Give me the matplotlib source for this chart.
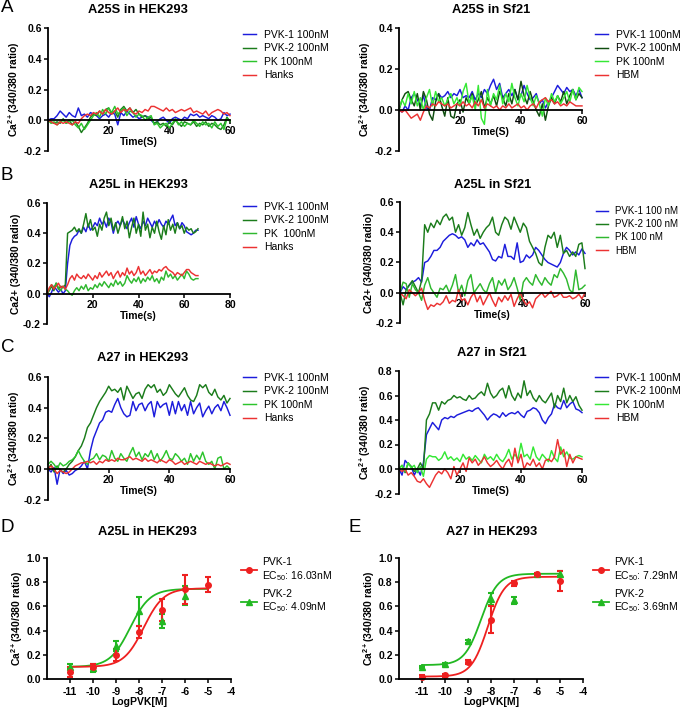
import numpy as np
import matplotlib
matplotlib.use("Agg")
import matplotlib.pyplot as plt

plt.rcParams['font.family'] = ['Liberation Sans', 'DejaVu Sans']
plt.rcParams['mathtext.fontset'] = 'custom'
plt.rcParams['mathtext.rm'] = 'Liberation Sans'
plt.rcParams['mathtext.bf'] = 'Liberation Sans:bold'
plt.rcParams['mathtext.it'] = 'Liberation Sans:italic'

# ---------------- data ----------------
# Panel A left: A25S in HEK293 (1 s steps, 0-60 s)
a1_pvk1 = [0.0, 0.01, 0.01, 0.03, 0.06, 0.04, 0.02, 0.05, 0.03, 0.02, 0.08, 0.03, 0.04, 0.02, 0.05, 0.04,
           0.03, 0.01, 0.03, 0.04, 0.02, 0.05, 0.04, -0.03, 0.05, 0.03, 0.06, 0.04, 0.02, 0.03, 0.01, 0.02,
           0.03, 0.02, 0.0, -0.02, -0.01, 0.01, 0.02, 0.0, -0.02, 0.01, 0.02, 0.01, 0.0, 0.02, 0.01, 0.04,
           0.03, 0.04, 0.02, 0.03, 0.02, 0.01, 0.03, 0.02, 0.0, 0.01, 0.05, 0.03, 0.04]
a1_pvk2 = [0.0, -0.01, -0.02, -0.01, -0.02, 0.01, -0.02, 0.0, -0.03, -0.01, -0.04, -0.08, -0.05, -0.02,
           0.02, 0.04, 0.03, 0.06, 0.04, 0.07, 0.08, 0.04, 0.06, 0.02, 0.07, 0.09, 0.06, 0.08, 0.05, 0.07,
           0.04, 0.02, 0.03, 0.01, 0.02, -0.02, -0.01, -0.03, -0.02, -0.04, -0.01, -0.03, 0.0, -0.02, -0.04,
           -0.01, -0.02, -0.03, -0.01, -0.04, -0.02, -0.03, -0.01, -0.04, -0.02, -0.03, -0.05, -0.06, -0.03,
           0.02, -0.01]
a1_pk = [0.0, -0.02, -0.01, -0.03, -0.01, 0.0, -0.02, -0.01, 0.0, -0.03, -0.05, -0.02, -0.06, -0.03, 0.0,
         0.03, 0.05, 0.02, 0.07, 0.04, 0.08, 0.05, 0.09, 0.04, 0.06, 0.08, 0.03, 0.06, 0.05, 0.02, 0.04,
         0.03, 0.0, 0.02, 0.03, -0.03, -0.02, -0.05, -0.03, -0.02, -0.05, -0.02, 0.01, -0.03, -0.01, -0.04,
         -0.02, -0.03, 0.0, -0.02, -0.04, -0.01, -0.03, -0.02, -0.05, -0.01, -0.04, -0.02, -0.06, 0.01, 0.0]
a1_ctrl = [0.0, -0.01, -0.02, -0.03, -0.01, -0.02, -0.01, -0.02, -0.03, -0.01, -0.02, 0.01, 0.03, 0.04,
           0.03, 0.05, 0.04, 0.06, 0.04, 0.07, 0.05, 0.04, 0.06, 0.08, 0.05, 0.07, 0.06, 0.08, 0.05, 0.04,
           0.06, 0.05, 0.07, 0.06, 0.09, 0.09, 0.08, 0.07, 0.06, 0.08, 0.06, 0.07, 0.05, 0.06, 0.07, 0.06,
           0.07, 0.08, 0.05, 0.06, 0.05, 0.04, 0.06, 0.03, 0.05, 0.06, 0.07, 0.06, 0.04, 0.05, 0.03]

# Panel A right: A25S in Sf21
a2_pvk1 = [0.0, -0.01, 0.02, 0.0, 0.06, 0.08, 0.05, 0.02, 0.07, 0.01, 0.0, 0.06, 0.05, 0.08, 0.06, 0.07,
           0.09, 0.06, 0.08, 0.07, 0.10, 0.06, 0.07, 0.06, 0.09, 0.05, 0.08, 0.06, 0.10, 0.08, 0.12, 0.15,
           0.10, 0.13, 0.06, 0.08, 0.10, 0.07, 0.10, 0.05, 0.07, 0.12, 0.08, 0.05, 0.06, 0.08, 0.03, 0.05,
           0.01, 0.04, 0.06, 0.09, 0.12, 0.10, 0.08, 0.11, 0.09, 0.10, 0.07, 0.10, 0.06]
a2_pvk2 = [0.0, 0.05, 0.08, 0.09, 0.05, 0.02, 0.08, 0.0, 0.09, 0.05, -0.02, -0.05, 0.04, 0.08, 0.02, -0.03,
           0.06, -0.03, -0.04, 0.03, 0.05, -0.01, 0.06, 0.03, 0.08, 0.02, 0.05, 0.09, 0.01, 0.06, 0.03, 0.07,
           0.02, 0.09, 0.06, 0.02, 0.08, 0.03, 0.10, 0.05, 0.14, 0.07, 0.03, 0.09, 0.04, 0.0, -0.03, 0.03,
           -0.05, 0.02, 0.06, 0.03, 0.07, 0.04, 0.09, 0.03, 0.07, 0.10, 0.05, 0.08, 0.06]
a2_pk = [0.0, 0.05, 0.02, 0.08, 0.03, 0.09, 0.02, 0.06, 0.0, 0.06, 0.10, 0.02, 0.09, 0.04, 0.06, 0.02,
         0.05, 0.08, 0.03, 0.06, 0.02, 0.09, 0.13, 0.03, 0.07, 0.0, 0.12, -0.04, -0.07, 0.10, 0.02, 0.08,
         0.05, 0.12, 0.03, 0.08, 0.04, 0.13, 0.06, 0.02, 0.08, 0.04, 0.12, 0.06, 0.02, 0.07, 0.03, -0.03,
         0.06, 0.02, 0.08, 0.04, 0.07, 0.03, 0.06, 0.09, 0.04, 0.10, 0.05, 0.11, 0.09]
a2_ctrl = [0.0, -0.01, 0.0, -0.02, -0.04, -0.03, -0.02, -0.05, -0.01, 0.02, 0.01, 0.03, 0.02, 0.04, 0.03,
           0.02, 0.03, 0.01, 0.02, 0.03, 0.02, 0.04, 0.02, 0.03, 0.01, 0.04, 0.02, 0.05, 0.01, 0.03, 0.02,
           0.01, 0.02, 0.0, 0.02, 0.01, 0.03, 0.01, 0.02, 0.03, 0.01, 0.02, 0.0, 0.02, 0.03, 0.01, 0.04,
           0.05, 0.06, 0.04, 0.05, 0.03, 0.04, 0.02, 0.03, 0.02, 0.04, 0.03, 0.02, 0.02, 0.02]

# Panel B left: A25L in HEK293 (0-66 s)
b1_pvk1 = [0.0, -0.02, 0.01, 0.05, 0.03, 0.01, 0.03, 0.0, 0.02, 0.2, 0.32, 0.36, 0.38, 0.39, 0.42, 0.40,
           0.44, 0.41, 0.46, 0.42, 0.44, 0.47, 0.45, 0.50, 0.46, 0.48, 0.44, 0.50, 0.47, 0.40, 0.46, 0.48,
           0.45, 0.49, 0.46, 0.43, 0.47, 0.50, 0.44, 0.51, 0.46, 0.43, 0.48, 0.45, 0.50, 0.47, 0.44, 0.48,
           0.45, 0.49, 0.46, 0.44, 0.48, 0.46, 0.49, 0.52, 0.45, 0.47, 0.43, 0.47, 0.45, 0.41, 0.40, 0.39,
           0.40, 0.42, 0.42]
b1_pvk2 = [0.0, 0.02, 0.05, 0.02, 0.07, 0.03, 0.05, 0.04, 0.06, 0.40, 0.41, 0.42, 0.44, 0.41, 0.43, 0.40,
           0.46, 0.53, 0.44, 0.49, 0.42, 0.44, 0.38, 0.46, 0.42, 0.50, 0.54, 0.45, 0.50, 0.42, 0.47, 0.40,
           0.45, 0.51, 0.43, 0.48, 0.37, 0.44, 0.50, 0.40, 0.46, 0.38, 0.54, 0.42, 0.46, 0.37, 0.44, 0.40,
           0.48, 0.41, 0.36, 0.45, 0.39, 0.49, 0.42, 0.46, 0.40, 0.47, 0.43, 0.45, 0.40, 0.44, 0.42, 0.43,
           0.40, 0.41, 0.43]
b1_pk = [0.0, 0.03, 0.06, 0.04, 0.07, 0.04, 0.02, 0.05, 0.03, 0.02, 0.0, -0.01, 0.02, 0.04, 0.02, 0.05,
         0.03, 0.06, 0.02, 0.04, 0.03, 0.06, 0.04, 0.07, 0.05, 0.08, 0.06, 0.04, 0.07, 0.05, 0.09, 0.06,
         0.08, 0.05, 0.07, 0.12, 0.09, 0.07, 0.10, 0.08, 0.11, 0.07, 0.10, 0.08, 0.11, 0.09, 0.12, 0.08,
         0.10, 0.07, 0.11, 0.09, 0.15, 0.11, 0.13, 0.10, 0.12, 0.09, 0.11, 0.13, 0.10, 0.15, 0.13, 0.10,
         0.09, 0.10, 0.10]
b1_ctrl = [0.0, 0.04, 0.06, 0.03, 0.05, 0.07, 0.04, 0.05, 0.03, 0.06, 0.10, 0.12, 0.09, 0.13, 0.11, 0.10,
           0.12, 0.10, 0.13, 0.11, 0.09, 0.12, 0.10, 0.14, 0.11, 0.13, 0.15, 0.12, 0.14, 0.10, 0.13, 0.15,
           0.11, 0.14, 0.12, 0.17, 0.13, 0.15, 0.12, 0.14, 0.18, 0.13, 0.15, 0.12, 0.14, 0.16, 0.13, 0.15,
           0.14, 0.16, 0.15, 0.17, 0.18, 0.16, 0.15, 0.14, 0.12, 0.14, 0.13, 0.12, 0.14, 0.16, 0.16, 0.14,
           0.13, 0.12, 0.12]

# Panel B right: A25L in Sf21
b2_pvk1 = [0.0, 0.04, 0.02, 0.05, 0.07, 0.08, 0.10, 0.07, 0.2, 0.21, 0.24, 0.28, 0.28, 0.30, 0.34, 0.36,
           0.38, 0.39, 0.38, 0.36, 0.37, 0.35, 0.30, 0.33, 0.31, 0.35, 0.32, 0.33, 0.30, 0.27, 0.22, 0.21,
           0.24, 0.23, 0.32, 0.24, 0.24, 0.22, 0.33, 0.20, 0.21, 0.25, 0.23, 0.25, 0.30, 0.28, 0.25, 0.22,
           0.20, 0.19, 0.18, 0.17, 0.20, 0.26, 0.30, 0.28, 0.25, 0.27, 0.25, 0.29, 0.26]
b2_pvk2 = [0.0, -0.08, 0.02, 0.05, 0.08, 0.04, 0.0, 0.08, 0.45, 0.40, 0.46, 0.43, 0.48, 0.45, 0.50, 0.52,
           0.48, 0.50, 0.40, 0.45, 0.38, 0.43, 0.53, 0.45, 0.38, 0.42, 0.36, 0.40, 0.43, 0.45, 0.50, 0.40,
           0.38, 0.45, 0.50, 0.48, 0.42, 0.50, 0.45, 0.40, 0.46, 0.43, 0.34, 0.30, 0.26, 0.20, 0.18, 0.30,
           0.38, 0.36, 0.40, 0.30, 0.38, 0.26, 0.28, 0.24, 0.27, 0.24, 0.32, 0.33, 0.16]
b2_pk = [0.0, 0.07, 0.06, -0.03, 0.06, 0.02, 0.0, -0.05, 0.05, 0.10, 0.03, 0.0, -0.03, 0.03, 0.02, 0.05,
         0.0, 0.05, 0.12, 0.0, 0.05, -0.02, 0.08, 0.12, 0.0, 0.03, 0.06, 0.02, 0.0, 0.06, 0.10, 0.0, 0.08,
         0.05, 0.09, 0.02, 0.05, 0.10, 0.03, -0.05, 0.07, 0.10, 0.07, 0.05, 0.12, 0.08, 0.05, 0.10, 0.07,
         0.05, 0.12, 0.10, 0.16, 0.13, 0.09, 0.02, 0.0, 0.15, 0.02, 0.03, 0.05]
b2_ctrl = [0.0, -0.02, -0.04, 0.02, 0.0, -0.02, 0.0, 0.03, -0.05, -0.11, -0.08, -0.09, -0.07, -0.08, -0.06,
           -0.02, -0.07, -0.05, -0.06, 0.02, -0.05, -0.04, -0.08, -0.03, 0.0, -0.06, -0.02, -0.08, -0.04,
           0.0, -0.05, -0.09, -0.03, -0.06, -0.02, -0.05, -0.01, -0.09, -0.04, 0.0, -0.05, -0.08, -0.06,
           -0.1, -0.04, -0.02, 0.0, -0.03, -0.01, 0.01, -0.03, -0.02, 0.0, -0.03, -0.03, -0.02, -0.04, -0.03,
           -0.01, -0.04, 0.0]

# Panel C left: A27 in HEK293
c1_pvk1 = [0.0, -0.02, 0.01, -0.10, 0.0, -0.03, -0.01, -0.04, -0.03, -0.01, 0.0, 0.02, 0.05, 0.0, 0.12,
           0.2, 0.25, 0.3, 0.32, 0.37, 0.38, 0.37, 0.42, 0.46, 0.40, 0.36, 0.34, 0.35, 0.44, 0.38, 0.42,
           0.43, 0.38, 0.42, 0.44, 0.34, 0.44, 0.40, 0.42, 0.43, 0.35, 0.44, 0.36, 0.44, 0.38, 0.42, 0.35,
           0.44, 0.36, 0.40, 0.43, 0.34, 0.38, 0.41, 0.36, 0.40, 0.42, 0.38, 0.44, 0.40, 0.35]
c1_pvk2 = [0.0, 0.03, -0.02, 0.02, -0.01, -0.02, 0.0, 0.03, 0.05, 0.08, 0.12, 0.15, 0.2, 0.27, 0.3, 0.35,
           0.40, 0.44, 0.47, 0.50, 0.54, 0.51, 0.52, 0.50, 0.53, 0.45, 0.54, 0.50, 0.46, 0.49, 0.50, 0.46,
           0.52, 0.55, 0.53, 0.55, 0.50, 0.52, 0.48, 0.50, 0.55, 0.52, 0.49, 0.47, 0.50, 0.53, 0.48, 0.45,
           0.44, 0.48, 0.55, 0.53, 0.55, 0.50, 0.48, 0.52, 0.47, 0.45, 0.48, 0.43, 0.46]
c1_pk = [0.03, 0.05, 0.03, 0.0, 0.04, 0.02, 0.03, 0.05, 0.06, 0.08, 0.12, 0.08, 0.05, 0.03, 0.06, 0.07,
         0.10, 0.06, 0.09, 0.08, 0.05, 0.12, 0.07, 0.05, 0.10, 0.07, 0.05, 0.10, 0.14, 0.08, 0.11, 0.06,
         0.10, 0.08, 0.12, 0.06, 0.10, 0.05, 0.08, 0.12, 0.07, 0.06, 0.10, 0.08, 0.05, 0.07, 0.03, 0.10,
         0.05, 0.09, 0.06, 0.11, 0.05, 0.03, 0.05, 0.0, 0.07, 0.08, 0.0, 0.02, 0.0]
c1_ctrl = [0.0, 0.02, 0.0, -0.03, -0.01, -0.02, -0.03, -0.02, 0.0, 0.02, 0.03, 0.04, 0.04, 0.05, 0.04,
           0.05, 0.03, 0.05, 0.04, 0.06, 0.05, 0.06, 0.05, 0.07, 0.06, 0.06, 0.07, 0.08, 0.06, 0.07, 0.06,
           0.05, 0.07, 0.05, 0.06, 0.05, 0.04, 0.06, 0.05, 0.04, 0.06, 0.05, 0.03, 0.04, 0.05, 0.03, 0.04,
           0.05, 0.04, 0.03, 0.05, 0.04, 0.03, 0.04, 0.03, 0.02, 0.03, 0.02, 0.03, 0.04, 0.03]

# Panel C right: A27 in Sf21
c2_pvk1 = [0.0, -0.05, 0.07, 0.04, 0.02, -0.05, 0.0, -0.05, 0.05, 0.28, 0.33, 0.38, 0.35, 0.32, 0.40,
           0.42, 0.41, 0.43, 0.42, 0.44, 0.45, 0.46, 0.47, 0.48, 0.47, 0.49, 0.50, 0.47, 0.44, 0.40, 0.43,
           0.45, 0.44, 0.42, 0.46, 0.43, 0.45, 0.46, 0.45, 0.47, 0.44, 0.42, 0.47, 0.48, 0.50, 0.49, 0.46,
           0.40, 0.37, 0.42, 0.45, 0.53, 0.50, 0.49, 0.56, 0.50, 0.53, 0.55, 0.49, 0.48, 0.46]
c2_pvk2 = [0.0, 0.03, -0.03, 0.05, 0.02, -0.02, 0.0, 0.05, 0.0, 0.40, 0.45, 0.54, 0.54, 0.48, 0.55, 0.53,
           0.56, 0.57, 0.60, 0.58, 0.59, 0.57, 0.56, 0.60, 0.57, 0.58, 0.61, 0.63, 0.60, 0.70, 0.62, 0.58,
           0.60, 0.64, 0.66, 0.58, 0.68, 0.60, 0.56, 0.62, 0.58, 0.72, 0.60, 0.64, 0.58, 0.55, 0.60, 0.56,
           0.54, 0.58, 0.62, 0.50, 0.60, 0.55, 0.66, 0.54, 0.60, 0.55, 0.59, 0.52, 0.48]
c2_pk = [0.0, 0.03, -0.02, 0.05, 0.01, 0.03, -0.03, 0.02, -0.06, 0.08, 0.11, 0.10, 0.10, 0.07, 0.09, 0.14,
         0.08, 0.10, 0.07, 0.09, 0.06, 0.12, 0.08, 0.10, 0.07, 0.11, 0.08, 0.05, 0.12, 0.08, 0.10, 0.07,
         0.12, 0.08, 0.06, 0.10, 0.16, 0.08, 0.12, 0.08, 0.21, 0.10, 0.12, 0.08, 0.18, 0.10, 0.07, 0.12,
         0.09, 0.06, 0.15, 0.09, 0.06, 0.18, 0.10, 0.14, 0.09, 0.08, 0.10, 0.11, 0.10]
c2_ctrl = [0.0, -0.02, 0.0, -0.05, -0.03, -0.06, -0.1, -0.11, -0.08, -0.12, -0.15, -0.1, -0.05, -0.02,
           -0.04, 0.0, -0.03, -0.08, 0.02, -0.05, 0.0, 0.05, -0.02, 0.09, 0.05, 0.08, 0.03, 0.06, 0.1,
           0.05, 0.02, 0.04, 0.07, 0.03, 0.0, 0.05, 0.08, 0.02, 0.17, 0.05, 0.12, 0.0, 0.05, 0.03, 0.08,
           0.02, 0.05, 0.0, 0.07, 0.08, 0.06, 0.1, 0.24, 0.12, 0.16, 0.02, 0.12, 0.05, 0.1, 0.09, 0.08]

# Dose-response (D, E)
log_dose = [-11, -10, -9, -8, -7, -6, -5]
d_pvk1_mean = [0.06, 0.10, 0.20, 0.39, 0.57, 0.74, 0.78]
d_pvk1_err = [0.04, 0.02, 0.05, 0.05, 0.09, 0.12, 0.065]
d_pvk2_dose = [-11, -10, -9, -8, -7, -6]
d_pvk2_mean = [0.10, 0.09, 0.27, 0.56, 0.48, 0.69]
d_pvk2_err = [0.02, 0.03, 0.04, 0.12, 0.06, 0.08]
d_fit1 = dict(bottom=0.10, top=0.75, logec50=-7.795, hill=1.0)
d_fit2 = dict(bottom=0.10, top=0.745, logec50=-8.388, hill=1.0)

e_pvk1_mean = [0.02, 0.03, 0.14, 0.49, 0.79, 0.87, 0.81]
e_pvk1_err = [0.01, 0.01, 0.02, 0.11, 0.02, 0.01, 0.08]
e_pvk2_mean = [0.10, 0.12, 0.31, 0.66, 0.65, 0.87, 0.87]
e_pvk2_err = [0.01, 0.01, 0.01, 0.05, 0.03, 0.01, 0.02]
e_fit1 = dict(bottom=0.02, top=0.845, logec50=-8.137, hill=1.2)
e_fit2 = dict(bottom=0.115, top=0.87, logec50=-8.433, hill=1.2)

BLUE = '#1c1cdc'
RED = '#ec3232'
TICK_FS = 7.5
LAB_FS = 7.5
LEG_FS = 7.5

W, H = 683, 709
fig = plt.figure(figsize=(W / 100, H / 100), dpi=100)


def px_axes(x0, x1, ytop, ybot):
    return fig.add_axes([x0 / W, 1 - ybot / H, (x1 - x0) / W, (ybot - ytop) / H])


def style_axes(ax, xlim, xticks, ylim, yticks, xlabel, ylabel, xaxis_at_zero=True, yfmt='{:.1f}'):
    ax.set_xlim(*xlim)
    ax.set_ylim(*ylim)
    for s in ['top', 'right']:
        ax.spines[s].set_visible(False)
    if xaxis_at_zero:
        ax.spines['bottom'].set_position(('data', 0))
    for s in ['left', 'bottom']:
        ax.spines[s].set_linewidth(1.3)
    ax.set_xticks(xticks)
    ax.set_yticks(yticks)
    ax.set_yticklabels([yfmt.format(v) for v in yticks])
    ax.set_xticklabels([str(v) for v in xticks])
    ax.tick_params(axis='both', length=3, width=1.1, labelsize=TICK_FS, pad=1.5)
    for lab in ax.get_xticklabels() + ax.get_yticklabels():
        lab.set_fontweight('bold')
    ax.set_xlabel(xlabel, fontsize=LAB_FS, fontweight='bold', labelpad=0.5)
    ax.set_ylabel(ylabel, fontsize=LAB_FS, fontweight='bold', labelpad=1.0)
    ax.patch.set_alpha(0)


def time_legend(ax, handles, labels, x, y, fs=LEG_FS):
    ax.legend(handles, labels, loc='upper left', bbox_to_anchor=(x / W, 1 - y / H),
              bbox_transform=fig.transFigure, frameon=False, fontsize=fs,
              handlelength=1.25, handletextpad=0.75, labelspacing=0.33, borderpad=0,
              borderaxespad=0)


YL_RATIO = r'Ca$^{\mathbf{2+}}$(340/380 ratio)'
YL_RADIO = 'Ca2+ (340/380 radio)'


def time_panel(rect, series, colors, labels, ylim, yticks, xlim, xticks, xlabel, ylabel, leg_xy,
               leg_fs=LEG_FS):
    ax = px_axes(*rect)
    hs = []
    for ys, c in zip(series, colors):
        t = np.arange(len(ys))
        h, = ax.plot(t, ys, color=c, lw=1.05, clip_on=False)
        hs.append(h)
    style_axes(ax, xlim, xticks, ylim, yticks, xlabel, ylabel)
    time_legend(ax, hs, labels, *leg_xy, fs=leg_fs)
    return ax


# A left
time_panel((48, 230, 28, 151), [a1_pvk1, a1_pvk2, a1_pk, a1_ctrl],
           [BLUE, '#1b7c1b', '#2cc42c', RED],
           ['PVK-1 100nM', 'PVK-2 100nM', 'PK 100nM', 'Hanks'],
           (-0.2, 0.6), [-0.2, 0.0, 0.2, 0.4, 0.6], (0, 60), [20, 40, 60],
           'Time(S)', YL_RATIO, (243, 30))
# A right
time_panel((399, 582, 28, 151), [a2_pvk1, a2_pvk2, a2_pk, a2_ctrl],
           [BLUE, '#0f4d0f', '#35e835', RED],
           ['PVK-1 100nM', 'PVK-2 100nM', 'PK 100nM', 'HBM'],
           (-0.2, 0.4), [-0.2, 0.0, 0.2, 0.4], (0, 60), [20, 40, 60],
           'Time(S)', YL_RATIO, (595, 30))
# B left
time_panel((47, 230, 203, 324), [b1_pvk1, b1_pvk2, b1_pk, b1_ctrl],
           [BLUE, '#1b7c1b', '#2fb82f', RED],
           ['PVK-1 100nM', 'PVK-2 100nM', 'PK  100nM', 'Hanks'],
           (-0.2, 0.6), [-0.2, 0.0, 0.2, 0.4, 0.6], (0, 80), [20, 40, 60, 80],
           'Time(s)', YL_RADIO, (243, 202))
# B right
time_panel((400, 585, 202, 323), [b2_pvk1, b2_pvk2, b2_pk, b2_ctrl],
           [BLUE, '#1b7c1b', '#2fb82f', RED],
           ['PVK-1 100 nM', 'PVK-2 100 nM', 'PK 100 nM', 'HBM'],
           (-0.2, 0.6), [-0.2, 0.0, 0.2, 0.4, 0.6], (0, 60), [20, 40, 60],
           'Time(s)', YL_RADIO, (596, 206), leg_fs=7.0)
# C left
time_panel((48, 230, 377, 499.6), [c1_pvk1, c1_pvk2, c1_pk, c1_ctrl],
           [BLUE, '#1b7c1b', '#2cc42c', RED],
           ['PVK-1 100nM', 'PVK-2 100nM', 'PK 100nM', 'Hanks'],
           (-0.2, 0.6), [-0.2, 0.0, 0.2, 0.4, 0.6], (0, 60), [20, 40, 60],
           'Time(S)', YL_RATIO, (243, 373))
# C right
time_panel((399, 582, 371, 493.5), [c2_pvk1, c2_pvk2, c2_pk, c2_ctrl],
           [BLUE, '#1b7c1b', '#35e835', RED],
           ['PVK-1 100nM', 'PVK-2 100nM', 'PK 100nM', 'HBM'],
           (-0.2, 0.8), [-0.2, 0.0, 0.2, 0.4, 0.6, 0.8], (0, 60), [20, 40, 60],
           'Time(S)', YL_RATIO, (595, 373))


def sigmoid(x, p):
    return p['bottom'] + (p['top'] - p['bottom']) / (1 + 10 ** ((p['logec50'] - x) * p['hill']))


def dose_panel(rect, d1, m1, e1, f1, d2, m2, e2, f2, lab1, lab2, leg_xy):
    ax = px_axes(*rect)
    xs = np.linspace(-11, -5, 200)
    rc, gc = '#ee2020', '#22b822'
    ax.plot(xs, sigmoid(xs, f2), color=gc, lw=1.3)
    ax.plot(xs, sigmoid(xs, f1), color=rc, lw=1.3)
    ax.errorbar(d2, m2, yerr=e2, fmt='^', color=gc, ms=4, elinewidth=1.5, capsize=2.4,
                capthick=1.5, clip_on=False)
    ax.errorbar(d1, m1, yerr=e1, fmt='o', color=rc, ms=4, elinewidth=1.5, capsize=2.4,
                capthick=1.5, clip_on=False)
    l1, = ax.plot([], [], color=rc, marker='o', ms=4, lw=1.3)
    l2, = ax.plot([], [], color=gc, marker='^', ms=4, lw=1.3)
    style_axes(ax, (-12, -4), [-11, -10, -9, -8, -7, -6, -5, -4], (0, 1.0),
               [0.0, 0.2, 0.4, 0.6, 0.8, 1.0], 'LogPVK[M]', YL_RATIO, xaxis_at_zero=False)
    ax.tick_params(axis='x', pad=2.5)
    ax.xaxis.labelpad = 0
    ax.legend([l1, l2], [lab1, lab2], loc='upper left', bbox_to_anchor=(leg_xy[0] / W, 1 - leg_xy[1] / H),
              bbox_transform=fig.transFigure, frameon=False, fontsize=LEG_FS,
              handlelength=1.5, handletextpad=0.5, labelspacing=0.55, borderpad=0, borderaxespad=0)
    return ax


dose_panel((47, 231, 558, 679), log_dose, d_pvk1_mean, d_pvk1_err, d_fit1,
           d_pvk2_dose, d_pvk2_mean, d_pvk2_err, d_fit2,
           'PVK-1\nEC$_{50}$: 16.03nM', 'PVK-2\nEC$_{50}$: 4.09nM', (241, 557))
dose_panel((399, 583, 558, 679), log_dose, e_pvk1_mean, e_pvk1_err, e_fit1,
           log_dose, e_pvk2_mean, e_pvk2_err, e_fit2,
           'PVK-1\nEC$_{50}$: 7.29nM', 'PVK-2\nEC$_{50}$: 3.69nM', (593, 557))

# Titles
titles = [('A25S in HEK293', 138, 10), ('A25S in Sf21', 491, 10),
          ('A25L in HEK293', 138, 185), ('A25L in Sf21', 493, 185),
          ('A27 in HEK293', 143, 358), ('A27 in Sf21', 492, 353),
          ('A25L in HEK293', 147, 532), ('A27 in HEK293', 492, 532)]
for txt, x, y in titles:
    fig.text(x / W, 1 - y / H, txt, ha='center', va='center', fontsize=9.3, fontweight='bold')

letters = [('A', 1, 8), ('B', 1, 176), ('C', 1, 348), ('D', 1, 527), ('E', 348, 527)]
for txt, x, y in letters:
    fig.text(x / W, 1 - y / H, txt, ha='left', va='center', fontsize=13.5)

fig.savefig('out.png', dpi=100)
